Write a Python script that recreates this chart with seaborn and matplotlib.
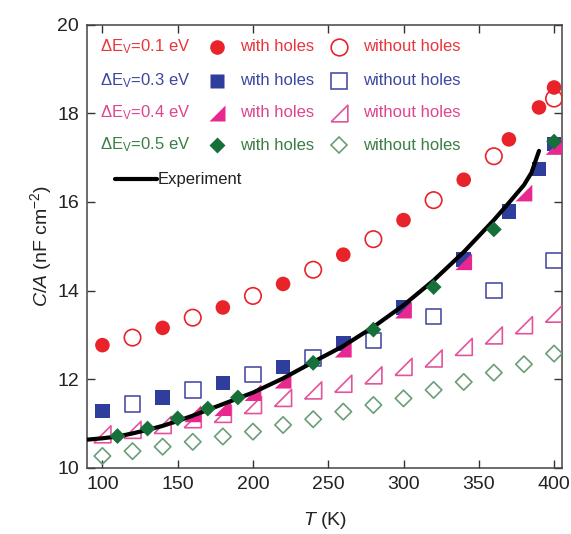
import matplotlib
matplotlib.use("Agg")
import matplotlib.pyplot as plt
import seaborn as sns
import pandas as pd

# ---------------- data ----------------
T_red_with = [100, 140, 180, 220, 260, 300, 340, 370, 390, 400]
C_red_with = [12.77, 13.16, 13.62, 14.15, 14.81, 15.59, 16.50, 17.41, 18.13, 18.58]
T_red_without = [120, 160, 200, 240, 280, 320, 360, 400]
C_red_without = [12.94, 13.39, 13.88, 14.47, 15.16, 16.04, 17.03, 18.33]

T_blue_with = [100, 140, 180, 220, 260, 300, 340, 370, 390, 400]
C_blue_with = [11.29, 11.59, 11.92, 12.28, 12.81, 13.62, 14.70, 15.79, 16.74, 17.31]
T_blue_without = [120, 160, 200, 240, 280, 320, 360, 400]
C_blue_without = [11.44, 11.76, 12.11, 12.48, 12.88, 13.42, 14.00, 14.68]

T_pink_with = [160, 180, 200, 220, 260, 300, 340, 380, 400]
C_pink_with = [11.22, 11.36, 11.70, 11.98, 12.68, 13.56, 14.65, 16.20, 17.25]
T_pink_without = [100, 120, 140, 160, 180, 200, 220, 240, 260, 280, 300, 320, 340, 360, 380, 400]
C_pink_without = [10.76, 10.86, 10.97, 11.10, 11.22, 11.42, 11.58, 11.75, 11.90, 12.09,
                  12.28, 12.47, 12.73, 12.99, 13.22, 13.48]

T_green_with = [110, 130, 150, 170, 190, 240, 280, 320, 360, 400]
C_green_with = [10.72, 10.89, 11.12, 11.34, 11.59, 12.37, 13.12, 14.08, 15.38, 17.36]
T_green_without = [100, 120, 140, 160, 180, 200, 220, 240, 260, 280, 300, 320, 340, 360, 380, 400]
C_green_without = [10.27, 10.38, 10.48, 10.59, 10.71, 10.82, 10.97, 11.10, 11.27, 11.42,
                   11.57, 11.76, 11.94, 12.15, 12.34, 12.58]

T_exp = [90, 100, 110, 120, 130, 140, 150, 160, 170, 180, 190, 200, 220, 240, 260, 280,
         300, 320, 340, 360, 370, 380, 385, 390]
C_exp = [10.64, 10.67, 10.71, 10.78, 10.86, 10.95, 11.06, 11.18, 11.31, 11.44, 11.57, 11.70,
         12.02, 12.39, 12.75, 13.18, 13.67, 14.23, 14.87, 15.59, 15.98, 16.38, 16.66, 17.15]

dE_labels = ["0.1", "0.3", "0.4", "0.5"]
x_ticks = [100, 150, 200, 250, 300, 350, 400]
y_ticks = [10, 12, 14, 16, 18, 20]

# ---------------- style ----------------
sns.set_style("ticks")
plt.rcParams["font.family"] = ["Liberation Sans", "DejaVu Sans"]
plt.rcParams["mathtext.fontset"] = "custom"
plt.rcParams["mathtext.rm"] = "Liberation Sans"
plt.rcParams["mathtext.it"] = "Liberation Sans:italic"
plt.rcParams["mathtext.bf"] = "Liberation Sans:bold"

RED = "#E8232A"
BLUE = "#2F3E9C"
BLUE_O = "#4A50A6"
PINK = "#E8288E"
PINK_O = "#E4539A"
GREEN = "#17703A"
GREEN_O = "#6A9E78"

TXT_RED = "#E8363B"
TXT_BLUE = "#3C47A0"
TXT_PINK = "#E0448F"
TXT_GREEN = "#3A7E45"

tri = [(-1, -1), (1, -1), (1, 1), (-1, -1)]

fig = plt.figure(figsize=(5.71, 5.34), dpi=100)
ax = fig.add_axes([0.153, 0.1236, 0.8313, 0.8305])

def filled(T, C, marker, color, s, z=3):
    sns.scatterplot(x=T, y=C, marker=marker, s=s, color=color, edgecolor="none",
                    linewidth=0, ax=ax, zorder=z, legend=False)

def hollow(T, C, marker, color, s, z=3):
    sns.scatterplot(x=T, y=C, marker=marker, s=s, facecolor="none", edgecolor=color,
                    linewidth=1.2, ax=ax, zorder=z, legend=False)

hollow(T_green_without, C_green_without, "D", GREEN_O, 70)
hollow(T_pink_without, C_pink_without, tri, PINK_O, 150)
hollow(T_blue_without, C_blue_without, "s", BLUE_O, 125)
hollow(T_red_without, C_red_without, "o", RED, 140)
filled(T_red_with, C_red_with, "o", RED, 110)
filled(T_blue_with, C_blue_with, "s", BLUE, 110)
filled(T_pink_with, C_pink_with, tri, PINK, 145)

sns.lineplot(x=T_exp, y=C_exp, color="black", linewidth=3, ax=ax, zorder=4,
             sort=False, estimator=None)
filled(T_green_with, C_green_with, "D", GREEN, 65, z=5)

ax.set_xlim(90, 405.3)
ax.set_ylim(10, 20)
ax.set_xticks(x_ticks)
ax.set_yticks(y_ticks)
ax.tick_params(direction="in", length=6, width=1, top=True, right=True,
               labelsize=14, colors="#333333", labelcolor="#222222", pad=6)
for sp in ax.spines.values():
    sp.set_color("#444444")
    sp.set_linewidth(1.1)

ax.set_xlabel(r"$T$ (K)", fontsize=14, color="#222222", labelpad=12)
ax.set_ylabel(r"$C/A$ (nF cm$^{-2}$)", fontsize=14, color="#222222", labelpad=2)

# ---------------- legend (manual, upper left) ----------------
rows_y = [0.950, 0.873, 0.801, 0.728]
txt_cols = [TXT_RED, TXT_BLUE, TXT_PINK, TXT_GREEN]
fill_cols = [RED, BLUE, PINK, GREEN]
open_cols = [RED, BLUE_O, PINK_O, GREEN_O]
mk = ["o", "s", tri, "D"]
ms_f = [10.5, 10, 11.5, 8]
ms_o = [12, 11, 12, 8.5]
for i, y in enumerate(rows_y):
    ax.text(0.027, y, "ΔE$_\\mathregular{V}$=" + dE_labels[i] + " eV", transform=ax.transAxes,
            color=txt_cols[i], fontsize=12, va="center", ha="left")
    ax.plot([0.2726], [y], marker=mk[i], ms=ms_f[i], color=fill_cols[i], mec="none",
            transform=ax.transAxes, clip_on=False, ls="none")
    ax.text(0.322, y, "with holes", transform=ax.transAxes, color=txt_cols[i],
            fontsize=12, va="center", ha="left")
    ax.plot([0.530], [y], marker=mk[i], ms=ms_o[i], mfc="none", mec=open_cols[i], mew=1.2,
            transform=ax.transAxes, clip_on=False, ls="none")
    ax.text(0.581, y, "without holes", transform=ax.transAxes, color=txt_cols[i],
            fontsize=12, va="center", ha="left")

ax.plot([0.058, 0.147], [0.651, 0.651], color="black", lw=3, transform=ax.transAxes)
ax.text(0.149, 0.651, "Experiment", transform=ax.transAxes, color="#222222",
        fontsize=12, va="center", ha="left")

fig.savefig("out.png", dpi=100)
